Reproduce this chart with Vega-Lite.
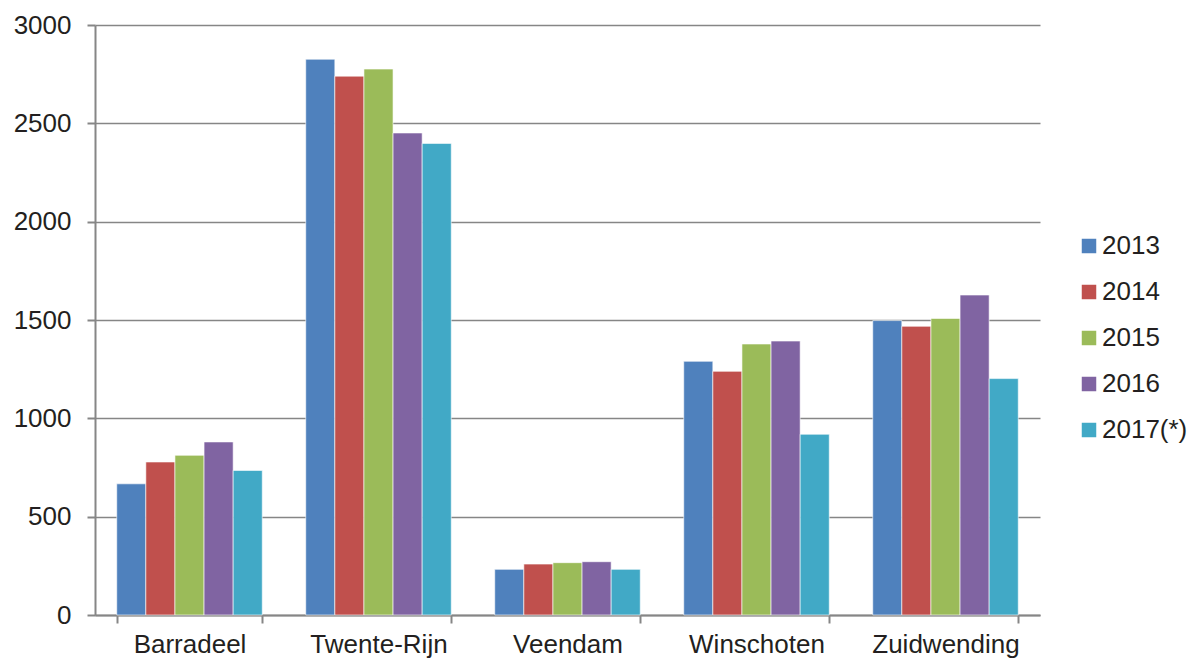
{
  "$schema": "https://vega.github.io/schema/vega-lite/v6.json",
  "width": 945,
  "height": 590,
  "autosize": {"type": "none"},
  "padding": {"left": 95, "top": 25, "right": 150, "bottom": 44},
  "background": "white",
  "config": {
    "font": "Liberation Sans",
    "view": {"stroke": null}
  },
  "data": {
    "values": [
      {"gemeente": "Barradeel", "jaar": "2013", "waarde": 667},
      {"gemeente": "Barradeel", "jaar": "2014", "waarde": 778},
      {"gemeente": "Barradeel", "jaar": "2015", "waarde": 812},
      {"gemeente": "Barradeel", "jaar": "2016", "waarde": 880},
      {"gemeente": "Barradeel", "jaar": "2017(*)", "waarde": 735},
      {"gemeente": "Twente-Rijn", "jaar": "2013", "waarde": 2826},
      {"gemeente": "Twente-Rijn", "jaar": "2014", "waarde": 2740},
      {"gemeente": "Twente-Rijn", "jaar": "2015", "waarde": 2776},
      {"gemeente": "Twente-Rijn", "jaar": "2016", "waarde": 2451},
      {"gemeente": "Twente-Rijn", "jaar": "2017(*)", "waarde": 2398},
      {"gemeente": "Veendam", "jaar": "2013", "waarde": 232},
      {"gemeente": "Veendam", "jaar": "2014", "waarde": 259},
      {"gemeente": "Veendam", "jaar": "2015", "waarde": 266},
      {"gemeente": "Veendam", "jaar": "2016", "waarde": 271},
      {"gemeente": "Veendam", "jaar": "2017(*)", "waarde": 232},
      {"gemeente": "Winschoten", "jaar": "2013", "waarde": 1290},
      {"gemeente": "Winschoten", "jaar": "2014", "waarde": 1239},
      {"gemeente": "Winschoten", "jaar": "2015", "waarde": 1378},
      {"gemeente": "Winschoten", "jaar": "2016", "waarde": 1393},
      {"gemeente": "Winschoten", "jaar": "2017(*)", "waarde": 919},
      {"gemeente": "Zuidwending", "jaar": "2013", "waarde": 1497},
      {"gemeente": "Zuidwending", "jaar": "2014", "waarde": 1468},
      {"gemeente": "Zuidwending", "jaar": "2015", "waarde": 1508},
      {"gemeente": "Zuidwending", "jaar": "2016", "waarde": 1627},
      {"gemeente": "Zuidwending", "jaar": "2017(*)", "waarde": 1202}
    ]
  },
  "mark": {"type": "bar", "stroke": "#ffffff", "strokeOpacity": 0.6, "strokeWidth": 1},
  "encoding": {
    "x": {
      "field": "gemeente",
      "type": "nominal",
      "sort": null,
      "scale": {"paddingInner": 0.23, "paddingOuter": 0.115},
      "axis": {
        "title": null,
        "labelAngle": 0,
        "labelFontSize": 26,
        "labelColor": "#231F20",
        "labelPadding": 8,
        "labelBaseline": "top",
        "tickBand": "extent",
        "tickSize": 8,
        "tickColor": "#868686",
        "tickWidth": 2,
        "domainColor": "#868686",
        "domainWidth": 2,
        "grid": false
      }
    },
    "xOffset": {"field": "jaar", "type": "nominal", "sort": ["2013", "2014", "2015", "2016", "2017(*)"]},
    "y": {
      "field": "waarde",
      "type": "quantitative",
      "scale": {"domain": [0, 3000], "nice": false},
      "axis": {
        "title": null,
        "values": [0, 500, 1000, 1500, 2000, 2500, 3000],
        "format": "d",
        "labelFontSize": 26,
        "labelColor": "#231F20",
        "labelPadding": 16,
        "tickSize": 8,
        "tickColor": "#868686",
        "tickWidth": 2,
        "domainColor": "#868686",
        "domainWidth": 2,
        "grid": true,
        "gridColor": "#868686",
        "gridWidth": 1.5
      }
    },
    "color": {
      "field": "jaar",
      "type": "nominal",
      "sort": ["2013", "2014", "2015", "2016", "2017(*)"],
      "scale": {
        "domain": ["2013", "2014", "2015", "2016", "2017(*)"],
        "range": ["#4F81BD", "#C0504D", "#9BBB59", "#8064A2", "#41A9C6"]
      },
      "legend": {
        "title": null,
        "orient": "none",
        "legendX": 981,
        "legendY": 208,
        "padding": 0,
        "symbolType": "square",
        "symbolSize": 210,
        "symbolStrokeWidth": 0,
        "labelFontSize": 26,
        "labelColor": "#231F20",
        "labelOffset": 0,
        "labelLimit": 200,
        "rowPadding": 20
      }
    }
  }
}
